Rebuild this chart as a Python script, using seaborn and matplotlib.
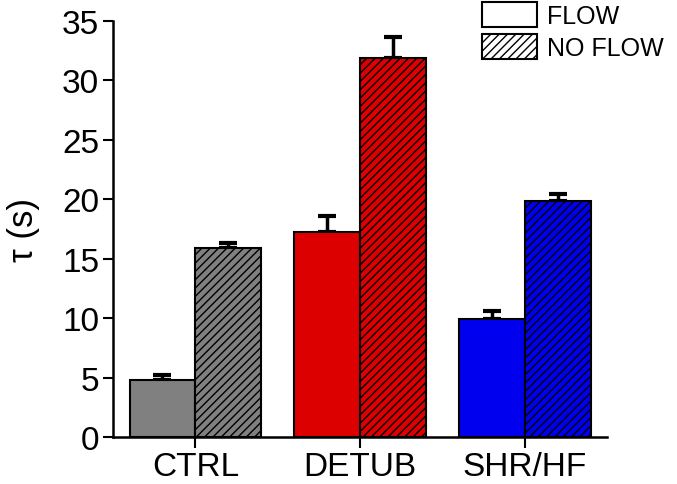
import pandas as pd
import matplotlib
matplotlib.use('Agg')
import matplotlib.pyplot as plt
import seaborn as sns
from matplotlib.patches import Patch

groups = ['CTRL', 'DETUB', 'SHR/HF']
conditions = ['FLOW', 'NO FLOW']
flow_vals = [4.8, 17.2, 9.9]
flow_err = [0.4, 1.4, 0.7]
noflow_vals = [15.9, 31.9, 19.85]
noflow_err = [0.4, 1.7, 0.55]
group_colors = ['#808080', '#DD0000', '#0000EE']

data = pd.DataFrame({
    'group': groups * 2,
    'cond': ['FLOW'] * 3 + ['NO FLOW'] * 3,
    'tau': flow_vals + noflow_vals,
    'err': flow_err + noflow_err,
})

sns.set_style('ticks')
plt.rcParams['font.family'] = ['Liberation Sans', 'DejaVu Sans']
plt.rcParams['hatch.linewidth'] = 1.0
plt.rcParams['hatch.color'] = 'black'
for k in ['text.color', 'axes.labelcolor', 'xtick.color', 'ytick.color', 'axes.edgecolor']:
    plt.rcParams[k] = 'black'

fig = plt.figure(figsize=(6.77, 4.85), dpi=100)
ax = fig.add_axes([0.167, 0.097, 0.73, 0.858])

sns.barplot(data=data, x='group', y='tau', hue='cond', order=groups,
            hue_order=conditions, width=0.8, errorbar=None, legend=False, ax=ax)

# patches: FLOW bars for each group first, then NO FLOW
bars = ax.patches[:6]
for i, bar in enumerate(bars):
    g = i % 3
    c = i // 3
    bar.set_facecolor(group_colors[g])
    bar.set_edgecolor('black')
    bar.set_linewidth(1.5)
    bar.set_zorder(2)
    if c == 1:
        bar.set_hatch('////')
    x = bar.get_x() + bar.get_width() / 2
    h = bar.get_height()
    e = data['err'].iloc[i]
    ax.errorbar(x, h, yerr=[[0], [e]], fmt='none', ecolor='black',
                elinewidth=2.5, capsize=6.5, capthick=3, zorder=1)

ax.set_ylim(0, 35)
ax.set_xlim(-0.5, 2.5)
ax.set_yticks(range(0, 36, 5))
ax.set_xlabel('')
ax.set_ylabel('τ (s)', fontsize=25, labelpad=16)
ax.tick_params(axis='y', labelsize=24, width=1.5, length=7, pad=3)
ax.tick_params(axis='x', labelsize=24, width=1.5, length=8, pad=2)
for side in ['left', 'bottom']:
    ax.spines[side].set_linewidth(1.8)
sns.despine(ax=ax)

handles = [Patch(facecolor='white', edgecolor='black', linewidth=1.5, label='FLOW'),
           Patch(facecolor='white', edgecolor='black', linewidth=1.5, hatch='////', label='NO FLOW')]
ax.legend(handles=handles, loc='upper left', bbox_to_anchor=(482 / 677, 1 - 3 / 485),
          bbox_transform=fig.transFigure, frameon=False, fontsize=18,
          borderpad=0, borderaxespad=0, handlelength=2.2, handleheight=1.15,
          handletextpad=0.4, labelspacing=0.25)

fig.savefig('out.png', dpi=100)
